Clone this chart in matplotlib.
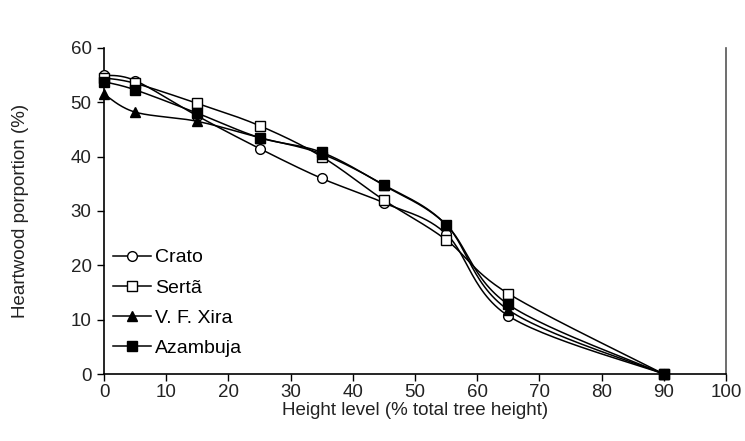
import numpy as np
import matplotlib
matplotlib.use("Agg")
import matplotlib.pyplot as plt
from matplotlib.lines import Line2D

plt.rcParams['font.family'] = ['Liberation Sans', 'DejaVu Sans']

height_level = [0, 5, 15, 25, 35, 45, 55, 65, 90]
crato = [55.0, 54.0, 47.5, 41.5, 36.0, 31.5, 25.8, 10.7, 0.0]
serta = [54.5, 53.5, 49.8, 45.7, 40.0, 32.0, 24.7, 14.8, 0.0]
vf_xira = [51.5, 48.2, 46.5, 43.5, 40.5, 34.8, 27.5, 11.8, 0.0]
azambuja = [53.8, 52.3, 48.0, 43.5, 40.8, 34.7, 27.5, 12.8, 0.0]

series_names = ["Crato", "Sertã", "V. F. Xira", "Azambuja"]
series_values = [crato, serta, vf_xira, azambuja]
series_markers = ["o", "s", "^", "s"]
series_faces = ["white", "white", "black", "black"]

x_ticks = list(range(0, 101, 10))
y_ticks = list(range(0, 61, 10))


def smooth(ax, xs, ys, n=30):
    """Spreadsheet-style smoothed line (Catmull-Rom in display space)."""
    pts = ax.transData.transform(np.column_stack([xs, ys]))
    p = np.vstack([pts[0], pts, pts[-1]])
    out = []
    for i in range(1, len(p) - 2):
        p0, p1, p2, p3 = p[i - 1], p[i], p[i + 1], p[i + 2]
        c1 = p1 + (p2 - p0) / 6.0
        c2 = p2 - (p3 - p1) / 6.0
        t = np.linspace(0, 1, n)[:, None]
        seg = ((1 - t) ** 3) * p1 + 3 * ((1 - t) ** 2) * t * c1 \
            + 3 * (1 - t) * t ** 2 * c2 + t ** 3 * p2
        out.append(seg if i == 1 else seg[1:])
    curve = np.vstack(out)
    data = ax.transData.inverted().transform(curve)
    return data[:, 0], data[:, 1]


fig = plt.figure(figsize=(7.45, 4.41), dpi=100)
ax = fig.add_axes([0.1396, 0.1519, 0.8349, 0.7393])
ax.set_xlim(0, 100)
ax.set_ylim(0, 60)

handles = []
for name, vals, mk, fc in zip(series_names, series_values, series_markers, series_faces):
    sx, sy = smooth(ax, height_level, vals)
    ax.plot(sx, sy, color="black", lw=1.1, zorder=2)
    ax.plot(height_level, vals, linestyle="none", marker=mk, markersize=7,
            markerfacecolor=fc, markeredgecolor="black", markeredgewidth=1.0,
            zorder=3, clip_on=False)
    handles.append(Line2D([], [], color="black", lw=1.1, marker=mk, markersize=7,
                          markerfacecolor=fc, markeredgecolor="black",
                          markeredgewidth=1.0, label=name))

ax.set_xticks(x_ticks)
ax.set_yticks(y_ticks)
ax.tick_params(axis="both", direction="out", length=5, width=1.0,
               labelsize=13.5, colors="black", labelcolor="#222222")
ax.tick_params(axis="x", pad=2)
ax.tick_params(axis="y", pad=4)

ax.spines["top"].set_visible(False)
for s in ("left", "bottom", "right"):
    ax.spines[s].set_linewidth(1.2)
ax.spines["right"].set_color("#555555")

ax.set_xlabel("Height level (% total tree height)", fontsize=13.5,
              labelpad=1, color="#222222")
ax.set_ylabel("Heartwood porportion (%)", fontsize=13.5,
              labelpad=30, color="#222222")

ax.legend(handles=handles, loc="upper left", bbox_to_anchor=(-0.005, 0.42),
          frameon=False, fontsize=14, handlelength=2.0, handletextpad=0.2,
          labelspacing=0.65, borderaxespad=0.3, borderpad=0.3)

fig.savefig("out.png", dpi=100)
